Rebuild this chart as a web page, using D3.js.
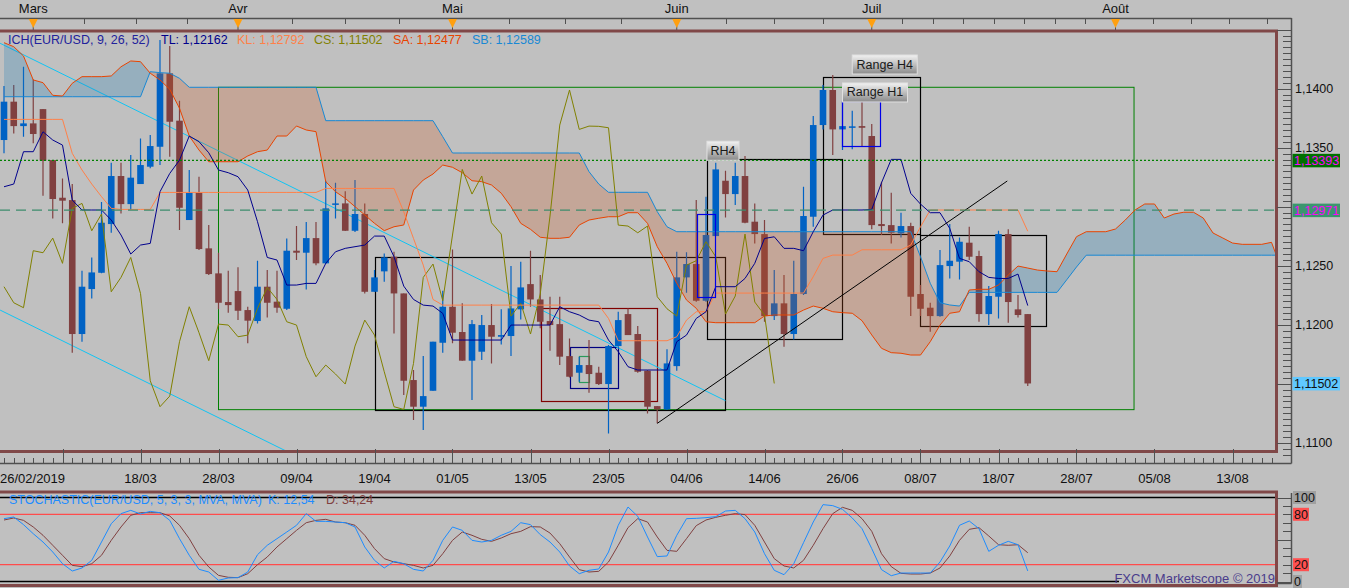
<!DOCTYPE html>
<html lang="fr">
<head>
<meta charset="UTF-8">
<title>EUR/USD Ichimoku</title>
<script src="https://d3js.org/d3.v7.min.js"></script>
<style>
  body { margin: 0; background: #c0c0c0; overflow: hidden; }
  svg { display: block; font-family: "Liberation Sans", Arial, sans-serif; }
</style>
</head>
<body>
<svg width="1349" height="588"></svg>
<script>
// ---- data (index 0 = 26/02/2019, one step per daily candle) ----
const opens = [1.13565,1.13890,1.13683,1.13706,1.13827,1.13395,1.13076,1.13056,1.11921,1.12302,
  1.12440,1.12853,1.13260,1.13022,1.13192,1.13339,1.13508,1.14130,1.13729,1.12887,
  1.13118,1.12647,1.12435,1.12192,1.12285,1.12124,1.12031,1.12322,1.12195,1.12135,
  1.12627,1.12610,1.12734,1.12520,1.13017,1.13028,1.12796,1.12938,1.12279,1.12452,
  1.12576,1.12265,1.11531,1.11305,1.11440,1.11847,1.12152,1.11938,1.11695,1.11771,
  1.11997,1.11898,1.11904,1.12130,1.12344,1.12214,1.12031,1.12005,1.11734,1.11593,
  1.11658,1.11593,1.11497,1.11819,1.12090,1.11921,1.11610,1.11310,1.11282,1.11649,
  1.12401,1.12514,1.12203,1.12751,1.13220,1.13107,1.13260,1.12873,1.12768,1.12073,
  1.12181,1.11921,1.12260,1.12915,1.13692,1.13989,1.13655,1.13675,1.13683,1.13599,
  1.12853,1.12844,1.12774,1.12836,1.12260,1.12144,1.12073,1.12497,1.12534,1.12695,
  1.12582,1.12090,1.12237,1.12768,1.12130,1.12090];
const highs = [1.14022,1.14031,1.14186,1.14079,1.13827,1.13395,1.13240,1.13192,1.12457,1.12570,
  1.13039,1.13373,1.13373,1.13438,1.13579,1.13607,1.14413,1.14361,1.13898,1.13311,
  1.13254,1.12844,1.12610,1.12457,1.12486,1.12152,1.12542,1.12463,1.12457,1.12731,
  1.12836,1.12870,1.12870,1.13220,1.13203,1.13130,1.13226,1.13028,1.12463,1.12604,
  1.12618,1.12265,1.11616,1.11734,1.11856,1.12288,1.12638,1.12181,1.12039,1.12082,
  1.12175,1.12130,1.12497,1.12534,1.12627,1.12421,1.12237,1.12237,1.11884,1.11729,
  1.11870,1.11644,1.11827,1.12110,1.12138,1.11988,1.11616,1.11310,1.11791,1.12618,
  1.12613,1.13056,1.13085,1.13373,1.13305,1.13373,1.13429,1.13028,1.12887,1.12463,
  1.12421,1.12542,1.13169,1.13768,1.14031,1.14116,1.13890,1.13813,1.13890,1.13700,
  1.13212,1.13118,1.12949,1.12864,1.12336,1.12186,1.12632,1.12853,1.12740,1.12830,
  1.12627,1.12327,1.12796,1.12808,1.12251,1.12090];
const lows = [1.13452,1.13621,1.13593,1.13537,1.13093,1.12901,1.12859,1.11762,1.11856,1.12223,
  1.12435,1.12779,1.12943,1.12972,1.13192,1.13325,1.13353,1.13424,1.12802,1.12887,
  1.12632,1.12421,1.12130,1.12101,1.12039,1.11842,1.12011,1.12062,1.12101,1.12124,
  1.12548,1.12299,1.12503,1.12514,1.12901,1.12794,1.12785,1.12265,1.12279,1.12364,
  1.11926,1.11404,1.11192,1.11107,1.11440,1.11762,1.11842,1.11695,1.11361,1.11700,
  1.11672,1.11833,1.11734,1.12045,1.12152,1.11969,1.11779,1.11658,1.11553,1.11517,
  1.11423,1.11488,1.11079,1.11813,1.11912,1.11593,1.11248,1.11164,1.11277,1.11610,
  1.12271,1.12195,1.12195,1.12751,1.12909,1.13014,1.12859,1.12689,1.12025,1.12039,
  1.11813,1.11875,1.12251,1.12830,1.13655,1.13438,1.13480,1.13486,1.13508,1.12808,
  1.12760,1.12689,1.12740,1.12073,1.12073,1.11940,1.12068,1.12392,1.12384,1.12548,
  1.12025,1.11997,1.12053,1.12017,1.12062,1.11480];
const closes = [1.13890,1.13683,1.13706,1.13616,1.13390,1.13065,1.13051,1.11921,1.12322,1.12443,
  1.12864,1.13260,1.13022,1.13246,1.13353,1.13514,1.14130,1.13720,1.12991,1.13118,
  1.12641,1.12429,1.12186,1.12166,1.12118,1.12034,1.12322,1.12186,1.12144,1.12627,
  1.12610,1.12734,1.12520,1.12986,1.13028,1.12796,1.12938,1.12279,1.12401,1.12570,
  1.12265,1.11525,1.11305,1.11395,1.11856,1.12152,1.11932,1.11695,1.12005,1.11997,
  1.11898,1.11912,1.12138,1.12316,1.12214,1.12025,1.11997,1.11729,1.11559,1.11658,
  1.11582,1.11497,1.11819,1.12039,1.11912,1.11601,1.11305,1.11282,1.11672,1.12401,
  1.12514,1.12203,1.12760,1.13316,1.13107,1.13260,1.12864,1.12768,1.12073,1.12181,
  1.11921,1.12260,1.12921,1.13692,1.13989,1.13655,1.13683,1.13681,1.13669,1.12844,
  1.12836,1.12779,1.12836,1.12237,1.12135,1.12073,1.12505,1.12542,1.12703,1.12576,
  1.12090,1.12243,1.12768,1.12192,1.12082,1.11502];

const tenkan = [1.13169,1.13192,1.13466,1.13466,1.13635,1.13565,1.13522,1.13056,1.12972,1.12972,
  1.12972,1.12887,1.12760,1.12599,1.12675,1.12689,1.13127,1.13282,1.13395,1.13599,
  1.13551,1.13457,1.13311,1.13288,1.13254,1.13141,1.12873,1.12570,1.12548,1.12336,
  1.12336,1.12350,1.12350,1.12520,1.12618,1.12647,1.12661,1.12675,1.12751,1.12751,
  1.12576,1.12327,1.12214,1.12166,1.12158,1.12096,1.11870,1.11870,1.11870,1.11870,
  1.11870,1.11870,1.11997,1.11997,1.11997,1.11997,1.11997,1.12152,1.12110,1.12082,
  1.12039,1.12025,1.11870,1.11771,1.11644,1.11616,1.11616,1.11616,1.11616,1.11856,
  1.11912,1.12053,1.12110,1.12322,1.12322,1.12322,1.12392,1.12520,1.12731,1.12745,
  1.12647,1.12647,1.12627,1.12788,1.12929,1.12972,1.12972,1.12972,1.12972,1.12977,
  1.13203,1.13401,1.13401,1.13113,1.13022,1.12949,1.12949,1.12816,1.12562,1.12534,
  1.12449,1.12401,1.12392,1.12392,1.12429,1.12162];
const kijun = [1.13740,1.13740,1.13740,1.13740,1.13740,1.13740,1.13740,1.13452,1.13311,1.13192,
  1.13085,1.12986,1.12977,1.12977,1.12977,1.12977,1.13121,1.13121,1.13121,1.13121,
  1.13121,1.13121,1.13121,1.13121,1.13121,1.13121,1.13121,1.13121,1.13121,1.13121,
  1.13121,1.13121,1.13121,1.13155,1.13155,1.13155,1.13155,1.13155,1.13155,1.13155,
  1.13155,1.12957,1.12731,1.12505,1.12214,1.12166,1.12166,1.12166,1.12166,1.12166,
  1.12166,1.12166,1.12166,1.12166,1.12166,1.12166,1.12166,1.12166,1.12166,1.12166,
  1.12166,1.12166,1.12053,1.11864,1.11864,1.11864,1.11864,1.11864,1.11864,1.11898,
  1.12039,1.12110,1.12110,1.12268,1.12268,1.12268,1.12268,1.12268,1.12268,1.12268,
  1.12268,1.12268,1.12268,1.12407,1.12562,1.12590,1.12590,1.12590,1.12635,1.12635,
  1.12635,1.12635,1.12635,1.12675,1.12830,1.12972,1.12972,1.12972,1.12972,1.12972,
  1.12972,1.12972,1.12972,1.12972,1.12972,1.12792];
// senkou spans, already displaced 26 candles forward (index 0..131)
const senkouA = [1.14390,1.14356,1.14277,1.14074,1.14051,1.13944,1.13938,1.14046,1.14102,1.14102,
  1.14102,1.14108,1.14186,1.14235,1.14229,1.14131,1.14074,1.13995,1.13834,1.13599,
  1.13480,1.13381,1.13381,1.13381,1.13381,1.13430,1.13466,1.13480,1.13599,1.13599,
  1.13684,1.13650,1.13636,1.13212,1.13127,1.13071,1.13000,1.12930,1.12859,1.12797,
  1.12830,1.12845,1.13141,1.13226,1.13277,1.13353,1.13334,1.13288,1.13220,1.13212,
  1.13184,1.13114,1.13000,1.12859,1.12808,1.12741,1.12732,1.12732,1.12741,1.12845,
  1.12887,1.12902,1.12915,1.12915,1.12949,1.12949,1.12859,1.12661,1.12520,1.12351,
  1.12209,1.12139,1.12025,1.12017,1.12017,1.12017,1.12017,1.12017,1.12074,1.12082,
  1.12082,1.12082,1.12124,1.12158,1.12139,1.12110,1.12102,1.12097,1.12034,1.11913,
  1.11800,1.11763,1.11758,1.11743,1.11743,1.11856,1.11997,1.12097,1.12110,1.12294,
  1.12300,1.12300,1.12336,1.12421,1.12497,1.12480,1.12463,1.12455,1.12449,1.12599,
  1.12746,1.12788,1.12788,1.12788,1.12811,1.12887,1.12972,1.13023,1.13023,1.12904,
  1.12938,1.12953,1.12953,1.12904,1.12777,1.12735,1.12692,1.12681,1.12681,1.12681,
  1.12698,1.12477];
const senkouB = [1.13932,1.13932,1.13932,1.13932,1.13932,1.13932,1.13932,1.13932,1.13932,1.13932,
  1.13932,1.13932,1.13932,1.13932,1.13932,1.14144,1.14136,1.14131,1.14088,1.14012,
  1.14012,1.14012,1.14012,1.14012,1.14012,1.14012,1.14012,1.14012,1.14012,1.14012,
  1.14012,1.14012,1.14012,1.13729,1.13729,1.13729,1.13729,1.13729,1.13729,1.13729,
  1.13729,1.13729,1.13729,1.13729,1.13729,1.13593,1.13455,1.13455,1.13455,1.13455,
  1.13455,1.13455,1.13455,1.13455,1.13455,1.13455,1.13455,1.13455,1.13455,1.13455,
  1.13297,1.13192,1.13122,1.13122,1.13122,1.13122,1.13122,1.12958,1.12830,1.12788,
  1.12788,1.12788,1.12788,1.12788,1.12788,1.12788,1.12788,1.12788,1.12788,1.12788,
  1.12788,1.12788,1.12788,1.12788,1.12788,1.12788,1.12788,1.12788,1.12788,1.12788,
  1.12788,1.12788,1.12788,1.12788,1.12576,1.12351,1.12186,1.12167,1.12158,1.12274,
  1.12274,1.12274,1.12274,1.12274,1.12274,1.12274,1.12274,1.12274,1.12274,1.12381,
  1.12489,1.12589,1.12589,1.12589,1.12589,1.12589,1.12589,1.12589,1.12589,1.12589,
  1.12589,1.12589,1.12589,1.12589,1.12589,1.12589,1.12589,1.12589,1.12589,1.12589,
  1.12589,1.12589];
const chikouShift = 26;

const stochK = [74.8,76.8,67.7,56.9,47.0,35.1,21.2,12.5,16.1,25.2,
  47.0,68.8,80.8,84.7,80.4,83.5,81.9,72.8,51.0,31.2,
  14.5,11.3,1.4,4.2,4.6,11.3,31.9,43.1,51.0,58.9,
  66.9,80.8,71.6,71.6,70.8,70.0,64.9,41.1,25.2,16.1,
  24.0,21.2,14.5,12.5,25.2,49.0,64.9,60.9,49.0,47.0,
  49.0,55.0,59.7,70.0,67.7,55.8,47.0,35.1,18.5,9.3,
  13.3,14.9,35.1,66.9,88.7,77.6,53.0,29.6,30.4,55.0,
  74.8,75.2,76.0,77.2,83.9,84.7,74.8,58.9,33.1,13.3,
  8.1,21.2,46.2,70.8,91.5,90.3,85.9,75.6,62.9,39.1,
  14.1,6.9,10.1,10.1,10.1,10.1,23.2,42.3,66.9,72.0,
  62.9,35.9,43.1,47.8,43.8,12.54];
const stochD = [73.2,75.6,72.8,64.9,55.0,43.1,31.2,19.2,17.7,21.2,
  31.2,49.0,64.9,78.8,81.9,81.9,81.9,78.0,66.9,51.0,
  31.2,17.3,7.3,5.0,4.6,9.3,20.0,29.2,41.1,51.0,
  60.9,70.0,72.8,74.0,70.8,70.0,66.9,55.0,39.1,27.2,
  23.2,21.2,19.2,16.1,19.2,33.1,49.0,58.9,55.0,50.2,
  47.8,51.8,56.9,59.7,65.3,64.9,57.7,45.0,29.2,14.1,
  11.3,12.1,23.2,43.1,64.1,74.8,70.8,53.0,37.1,35.9,
  51.0,66.5,73.2,76.4,78.8,80.8,79.6,66.9,47.0,27.2,
  18.5,16.1,25.2,43.1,62.9,80.8,88.3,84.7,74.8,59.7,
  33.1,17.7,9.7,8.9,8.9,10.1,16.1,30.4,49.0,62.1,
  64.1,54.2,43.8,43.1,43.8,34.24];

const monthIdx = [3, 24, 46, 69, 89, 114, 145];
const monthLabels = ["Mars", "Avr", "Mai", "Juin", "Juil", "Août", ""];
const dateMajorIdx = [6, 14, 22, 30, 38, 46, 54, 62, 70, 78, 86, 94, 102, 110, 118, 126];
const dateLabelIdx = [0, 14, 22, 30, 38, 46, 54, 62, 70, 78, 86, 94, 102, 110, 118, 126];
const dateLabels = ["26/02/2019", "18/03", "28/03", "09/04", "19/04", "01/05", "13/05", "23/05",
  "04/06", "14/06", "26/06", "08/07", "18/07", "28/07", "05/08", "13/08"];
const priceLabels = [1.140, 1.135, 1.125, 1.120, 1.110];   // 1,1300 and 1,1150 sit under the markers
const markerPrices = [1.13393, 1.12971, 1.11502];
const stochLevels = [100, 80, 20, 0];

// annotations: [index, price]
const cyanLines = [[[-0.4, 1.14385], [74, 1.11356]], [[-0.4, 1.12124], [30, 1.10886]]];
const greenBox = [22, 115.9, 1.14012, 1.11280];
const blackBoxes = [[38, 73.9, 1.12576, 1.11283], [72.1, 85.9, 1.13402, 1.11876],
  [84, 93.9, 1.14102, 1.12769], [94, 106.9, 1.12760, 1.11989]];
const redBox = [55.05, 66.95, 1.12139, 1.11353];
const navyBox = [58, 62.9, 1.11808, 1.11461];
const smallGreenBox = [59, 60, 1.11735, 1.11517];
const blueBoxes = [[86, 89.9, 1.13896, 1.13514], [71.05, 72.9, 1.12936, 1.12235]];
const diagonal = [[67, 1.11164], [102.9, 1.13218]];
const tags = [{t: "RH4", i: 72.1, p: 1.13402, w: 32},
  {t: "Range H4", i: 87, p: 1.14133, w: 65},
  {t: "Range H1", i: 86, p: 1.13896, w: 65}];

// ---- scales ----
const svg = d3.select("svg");
const x = d3.scaleLinear().domain([0, 131]).range([4, 4 + 131 * 9.75]);
const y = d3.scaleLinear().domain([1.11, 1.14]).range([442.7, 88.7]);
const ys = d3.scaleLinear().domain([0, 100]).range([581.5, 497.5]);
const fmtP = p => d3.format(".4f")(p).replace(".", ",");
const fmt5 = p => d3.format(".5f")(p).replace(".", ",");

const defs = svg.append("defs");
defs.append("clipPath").attr("id", "mainClip").append("rect")
  .attr("x", 0).attr("y", 32.5).attr("width", 1275).attr("height", 418);
defs.append("clipPath").attr("id", "stochClip").append("rect")
  .attr("x", 0).attr("y", 493.5).attr("width", 1275).attr("height", 90.5);
const grad = defs.append("linearGradient").attr("id", "tagGrad")
  .attr("x1", 0).attr("x2", 0).attr("y1", 0).attr("y2", 1);
grad.append("stop").attr("offset", "0%").attr("stop-color", "#f2f2f2");
grad.append("stop").attr("offset", "100%").attr("stop-color", "#8a8a8a");

svg.append("rect").attr("width", 1349).attr("height", 588).attr("fill", "#c0c0c0");

// ---- top month axis ----
const topAx = svg.append("g").attr("stroke", "#505050");
topAx.append("line").attr("x1", 0).attr("x2", 1291.5).attr("y1", 18.5).attr("y2", 18.5).attr("stroke-width", 1.5);
for (let m = 0; m < monthIdx.length - 1; m++) {
  const a = monthIdx[m], b = monthIdx[m + 1];
  const n = (x(b) - x(a)) / 8 >= 30 ? 8 : 4;
  for (let k = 1; k < n; k++) {
    const xx = Math.round(x(a + (b - a) * k / n)) + 0.5;
    if (xx < 1291) topAx.append("line").attr("x1", xx).attr("x2", xx).attr("y1", 18).attr("y2", 24);
  }
}
monthIdx.forEach((m, k) => {
  if (!monthLabels[k]) return;
  const xx = x(m);
  svg.append("line").attr("x1", xx).attr("x2", xx).attr("y1", 18).attr("y2", 31).attr("stroke", "#505050");
  svg.append("path").attr("d", `M${xx - 4.5},19 L${xx + 4.5},19 L${xx},28 Z`).attr("fill", "#ffa010");
  svg.append("text").attr("x", xx).attr("y", 13).attr("text-anchor", "middle")
    .attr("font-size", 13).attr("fill", "#101010").text(monthLabels[k]);
});

// ---- main panel ----
const main = svg.append("g").attr("clip-path", "url(#mainClip)");

main.append("rect").attr("x", x(greenBox[0])).attr("y", y(greenBox[2]))
  .attr("width", x(greenBox[1]) - x(greenBox[0])).attr("height", y(greenBox[3]) - y(greenBox[2]))
  .attr("fill", "none").attr("stroke", "#008000");

function box(b, color) {
  main.append("rect").attr("x", Math.round(x(b[0])) + 0.5).attr("y", Math.round(y(b[2])) + 0.5)
    .attr("width", Math.round(x(b[1]) - x(b[0]))).attr("height", Math.round(y(b[3]) - y(b[2])))
    .attr("fill", "none").attr("stroke", color).attr("stroke-width", 1.2);
}
blackBoxes.forEach(b => box(b, "#000"));
box(redBox, "#800000");
box(navyBox, "#000080");
box(smallGreenBox, "#2a9a5a");

const segLine = d3.line().x(d => x(d[0])).y(d => y(d[1]));
cyanLines.forEach(l => main.append("path").attr("d", segLine(l)).attr("stroke", "#10c4f4").attr("fill", "none"));

// candles
const candles = main.append("g");
opens.forEach((o, i) => {
  const c = closes[i], col = c >= o ? "#0062c4" : "#804040";
  candles.append("line").attr("x1", x(i)).attr("x2", x(i)).attr("y1", y(highs[i])).attr("y2", y(lows[i]))
    .attr("stroke", col).attr("stroke-width", 1.2);
  const y0 = y(Math.max(o, c)), h = Math.max(1.5, Math.abs(y(o) - y(c)));
  candles.append("rect").attr("x", x(i) - 3.3).attr("y", y0).attr("width", 6.6).attr("height", h).attr("fill", col);
});

// cloud
function cloudRuns() {
  const runs = [];
  let cur = null;
  for (let j = 0; j < senkouA.length; j++) {
    const d = senkouA[j] - senkouB[j], up = d >= 0;
    if (!cur) cur = {up, pts: [[j, senkouA[j], senkouB[j]]]};
    else if (cur.up === up) cur.pts.push([j, senkouA[j], senkouB[j]]);
    else {
      const dp = senkouA[j - 1] - senkouB[j - 1], t = dp / (dp - d);
      const pm = senkouA[j - 1] + (senkouA[j] - senkouA[j - 1]) * t;
      cur.pts.push([j - 1 + t, pm, pm]);
      runs.push(cur);
      cur = {up, pts: [[j - 1 + t, pm, pm], [j, senkouA[j], senkouB[j]]]};
    }
  }
  runs.push(cur);
  return runs;
}
const cloudArea = d3.area().x(d => x(d[0])).y0(d => y(d[2])).y1(d => y(d[1]));
cloudRuns().forEach(r => {
  main.append("path").attr("d", cloudArea(r.pts))
    .attr("fill", r.up ? "rgb(24,124,184)" : "rgb(208,88,32)").attr("fill-opacity", 0.25);
});

const idxLine = d3.line().x((d, i) => x(i)).y(d => y(d));
main.append("path").attr("d", idxLine(senkouB)).attr("stroke", "#1888d4").attr("fill", "none");
main.append("path").attr("d", idxLine(senkouA)).attr("stroke", "#e84400").attr("fill", "none");
main.append("path").attr("d", idxLine(closes.slice(chikouShift))).attr("stroke", "#808000").attr("fill", "none");
main.append("path").attr("d", idxLine(kijun)).attr("stroke", "#ff8048").attr("fill", "none");
main.append("path").attr("d", idxLine(tenkan)).attr("stroke", "#00008c").attr("fill", "none");

blueBoxes.forEach(b => box(b, "#0000e8"));
main.append("path").attr("d", segLine(diagonal)).attr("stroke", "#000").attr("fill", "none");

main.append("line").attr("x1", 0).attr("x2", 1276).attr("y1", y(markerPrices[0])).attr("y2", y(markerPrices[0]))
  .attr("stroke", "#008000").attr("stroke-dasharray", "2,2").attr("stroke-width", 1.2);
main.append("line").attr("x1", 0).attr("x2", 1276).attr("y1", y(markerPrices[1])).attr("y2", y(markerPrices[1]))
  .attr("stroke", "#3c8c6c").attr("stroke-dasharray", "10,6").attr("stroke-width", 1.2);

tags.forEach(t => {
  const gx = x(t.i), gy = y(t.p);
  const g = main.append("g");
  g.append("rect").attr("x", gx).attr("y", gy - 18).attr("width", t.w).attr("height", 19)
    .attr("fill", "url(#tagGrad)").attr("stroke", "#e0e0e0");
  g.append("text").attr("x", gx + t.w / 2).attr("y", gy - 4.5).attr("text-anchor", "middle")
    .attr("font-size", 12.5).attr("fill", "#1a1a1a").text(t.t);
});

// legend
const legend = [["ICH(EUR/USD, 9, 26, 52)", 8, "#22229c"], ["TL: 1,12162", 161, "#00008c"],
  ["KL: 1,12792", 237, "#ff8048"], ["CS: 1,11502", 314, "#808000"],
  ["SA: 1,12477", 393, "#e84400"], ["SB: 1,12589", 472, "#1888d4"]];
legend.forEach(l => svg.append("text").attr("x", l[1]).attr("y", 44).attr("font-size", 12.5)
  .attr("fill", l[2]).text(l[0]));

// main frame
svg.append("rect").attr("x", -3).attr("y", 31).attr("width", 1279.5).attr("height", 420.5)
  .attr("fill", "none").attr("stroke", "#804848").attr("stroke-width", 3);

// right price axis
const ax = svg.append("g").attr("stroke", "#505050");
ax.append("line").attr("x1", 1291.5).attr("x2", 1291.5).attr("y1", 18).attr("y2", 463.5).attr("stroke-width", 1.5);
d3.range(1.1090, 1.1450, 0.0005).forEach(p => {
  const major = Math.abs(p * 200 - Math.round(p * 200)) < 1e-6;
  const yy = Math.round(y(p)) + 0.5;
  ax.append("line").attr("x1", major ? 1277 : 1283).attr("x2", 1291).attr("y1", yy).attr("y2", yy);
});
priceLabels.forEach(p => svg.append("text").attr("x", 1295).attr("y", y(p) + 4.5)
  .attr("font-size", 12.5).attr("fill", "#101010").text(fmtP(p)));
const markerStyle = [["#007000", "#ff00ff"], ["#3c966e", "#ff00ff"], ["#60c8ff", "#101010"]];
markerPrices.forEach((p, k) => {
  svg.append("rect").attr("x", 1292.5).attr("y", y(p) - 6.5).attr("width", 47.5).attr("height", 13.5)
    .attr("fill", markerStyle[k][0]);
  svg.append("text").attr("x", 1294).attr("y", y(p) + 4.5).attr("font-size", 12.5)
    .attr("fill", markerStyle[k][1]).text(fmt5(p));
});

// bottom date axis
const bx = svg.append("g").attr("stroke", "#505050");
bx.append("line").attr("x1", 0).attr("x2", 1291.5).attr("y1", 463.5).attr("y2", 463.5).attr("stroke-width", 1.5);
d3.range(0, 132).forEach(i => {
  const xx = Math.round(x(i)) + 0.5;
  if (xx < 1276) bx.append("line").attr("x1", xx).attr("x2", xx).attr("y1", 458).attr("y2", 463);
});
dateMajorIdx.forEach(i => {
  const xx = Math.round(x(i)) + 0.5;
  bx.append("line").attr("x1", xx).attr("x2", xx).attr("y1", 449).attr("y2", 463);
});
dateLabelIdx.forEach((i, k) => svg.append("text").attr("x", i === 0 ? 0 : x(i))
  .attr("text-anchor", i === 0 ? "start" : "middle").attr("y", 483).attr("font-size", 13)
  .attr("fill", "#101010").text(dateLabels[k]));

// ---- stochastic panel ----
const st = svg.append("g").attr("clip-path", "url(#stochClip)");
st.append("line").attr("x1", 0).attr("x2", 1276).attr("y1", ys(100)).attr("y2", ys(100)).attr("stroke", "#000").attr("stroke-width", 1.5);
st.append("line").attr("x1", 0).attr("x2", 1119).attr("y1", ys(0)).attr("y2", ys(0)).attr("stroke", "#000").attr("stroke-width", 1.5);
[80, 20].forEach(v => st.append("line").attr("x1", 0).attr("x2", 1276).attr("y1", ys(v)).attr("y2", ys(v))
  .attr("stroke", "#ff4c4c").attr("stroke-width", 1.2));
const sLine = d3.line().x((d, i) => x(i)).y(d => ys(d));
st.append("path").attr("d", sLine(stochD)).attr("stroke", "#804040").attr("fill", "none");
st.append("path").attr("d", sLine(stochK)).attr("stroke", "#1e8cff").attr("fill", "none");

svg.append("text").attr("x", 9).attr("y", 504).attr("font-size", 12.5).attr("fill", "#1e8cff")
  .text("STOCHASTIC(EUR/USD, 5, 3, 3, MVA, MVA)");
svg.append("text").attr("x", 268).attr("y", 504).attr("font-size", 12.5).attr("fill", "#1e8cff").text("K: 12,54");
svg.append("text").attr("x", 326).attr("y", 504).attr("font-size", 12.5).attr("fill", "#804040").text("D: 34,24");
svg.append("text").attr("x", 1275).attr("y", 583).attr("text-anchor", "end").attr("font-size", 13)
  .attr("fill", "#4a3c8c").text("FXCM Marketscope © 2019");

svg.append("rect").attr("x", -3).attr("y", 492).attr("width", 1279.5).attr("height", 93.5)
  .attr("fill", "none").attr("stroke", "#804848").attr("stroke-width", 3);

const sx = svg.append("g").attr("stroke", "#505050");
sx.append("line").attr("x1", 1291.5).attr("x2", 1291.5).attr("y1", 493).attr("y2", 583.5).attr("stroke-width", 1.5);
sx.append("line").attr("x1", 1277).attr("x2", 1291.5).attr("y1", 583.5).attr("y2", 583.5).attr("stroke-width", 1.5);
d3.range(0, 101, 10).forEach(v => {
  const yy = Math.round(ys(v)) + 0.5;
  sx.append("line").attr("x1", v % 50 === 0 ? 1277 : 1283).attr("x2", 1291).attr("y1", yy).attr("y2", yy);
});
stochLevels.forEach(v => {
  const txt = String(v), w = txt.length * 7 + 2;
  const bg = (v === 80 || v === 20) ? "#ff5050" : "#a0a0a0";
  svg.append("rect").attr("x", 1293).attr("y", ys(v) - 6.5).attr("width", w).attr("height", 13).attr("fill", bg);
  svg.append("text").attr("x", 1294).attr("y", ys(v) + 4.5).attr("font-size", 12.5).attr("fill", "#101010").text(txt);
});
</script>
</body>
</html>
